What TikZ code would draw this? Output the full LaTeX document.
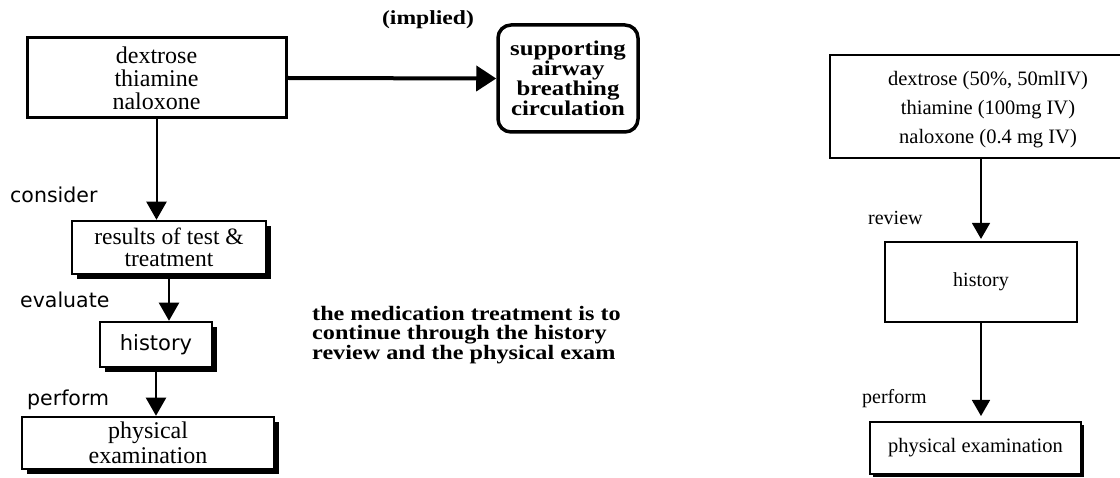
\documentclass[tikz,border=0pt]{standalone}
\usepackage{fontspec}
\setmainfont{Liberation Serif}
\newfontfamily\lsans{DejaVu Sans}
\newfontfamily\bserif[FakeStretch=1.18]{Liberation Serif}
\usetikzlibrary{arrows.meta,shadows}
\begin{document}
\begin{tikzpicture}[x=1pt,y=-1pt,
  thickbox/.style={draw, line width=3pt, fill=white, inner sep=0pt, align=center},
  shbox/.style={draw, line width=2.5pt, fill=white, inner sep=0pt, align=center,
    drop shadow={fill=black, opacity=1, shadow xshift=5pt, shadow yshift=-5pt}},
  rshbox/.style={draw, line width=2pt, fill=white, inner sep=0pt, align=center,
    drop shadow={fill=black, opacity=1, shadow xshift=3pt, shadow yshift=-3pt}},
  rbox/.style={draw, line width=2.2pt, fill=white, inner sep=0pt, align=center},
  lser/.style={font=\fontsize{24}{23}\selectfont},
  lsan/.style={font=\lsans\fontsize{20.5}{22}\selectfont, inner sep=0pt},
  bold/.style={font=\bserif\bfseries\fontsize{21}{20}\selectfont, inner sep=0pt},
  rser/.style={font=\fontsize{20.5}{29}\selectfont, inner sep=0pt},
  larr/.style={line width=2pt, -{Triangle[length=18pt,width=20pt]}},
  harr/.style={line width=4pt, -{Triangle[length=20pt,width=25pt]}},
  rarr/.style={line width=1.6pt, -{Triangle[length=16pt,width=18pt]}}
]
\useasboundingbox (0,0) rectangle (1120,478);
\fill[white] (0,0) rectangle (1120,478);

% ---------- left diagram ----------
\node[thickbox, lser, minimum width=259pt, minimum height=80pt] (b1) at (156.5,78)
  {dextrose\\thiamine\\naloxone};
\node[thickbox, minimum width=140pt, minimum height=107pt, rounded corners=13pt,
  line width=3.5pt, bold] (sup) at (568,78.5)
  {supporting\\airway\\breathing\\circulation};
\node[bold, font=\bserif\bfseries\fontsize{20}{20}\selectfont] (impl) at (428,20) {(implied)};
\draw[harr] (b1.east) -- (sup.west);

\node[lsan, anchor=base west] (consider) at (10,203) {consider};
\node[shbox, font=\fontsize{23.5}{22}\selectfont, minimum width=194pt, minimum height=53pt] (b2) at (169,247.5)
  {results of test \&\\treatment};
\node[lsan, anchor=base west] (evaluate) at (20,308) {evaluate};
\node[shbox, minimum width=112pt, minimum height=45pt, font=\lsans\fontsize{21}{22}\selectfont] (b3) at (156,344.5)
  {history};
\node[lsan, anchor=base west] (perform) at (27,406) {perform};
\node[shbox, font=\fontsize{24}{25}\selectfont, minimum width=252pt, minimum height=52pt] (b4) at (148,443)
  {physical\\examination};

\draw[larr] (b1.south) -- (b1.south |- b2.north);
\draw[larr] (b2.south) -- (b2.south |- b3.north);
\draw[larr] (b3.south) -- (b3.south |- b4.north);

\node[inner sep=0pt, font=\bserif\bfseries\fontsize{20.5}{19.5}\selectfont, anchor=north west, align=left] (note) at (312,306)
  {the medication treatment is to\\continue through the history\\review and the physical exam};

% ---------- right diagram ----------
\node[minimum width=290pt, minimum height=103pt, inner sep=0pt] (rb1) at (975,106.5) {};
\draw[line width=2.5pt] (rb1.north east) -- (rb1.north west) -- (rb1.south west) -- (rb1.south east);
\node[rser, align=center] (rb1text) at (988,109.5)
  {dextrose (50\%, 50mlIV)\\thiamine (100mg IV)\\naloxone (0.4 mg IV)};

\node[rser, anchor=base west, font=\fontsize{20}{22}\selectfont] (review) at (868,225) {review};
\node[rbox, minimum width=192pt, minimum height=80pt, font=\fontsize{20}{22}\selectfont] (rh) at (981,282) {history};
\node[rser, anchor=base west, font=\fontsize{20}{22}\selectfont] (rperform) at (862,403) {perform};
\node[rshbox, minimum width=211pt, minimum height=52pt, font=\fontsize{20.5}{22}\selectfont] (rp) at (975.5,448)
  {physical examination};

\draw[rarr, shorten >=2pt] (rh.north |- rb1.south) -- (rh.north);
\draw[rarr, shorten >=5pt] (rh.south) -- (rh.south |- rp.north);
\end{tikzpicture}
\end{document}
